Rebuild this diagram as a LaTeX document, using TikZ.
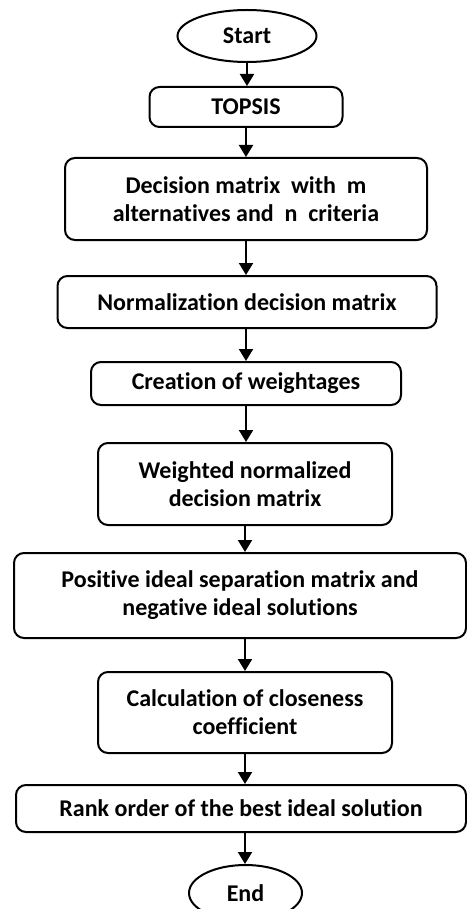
\documentclass[tikz,border=0pt]{standalone}
\usepackage{fontspec}
\setmainfont{Carlito}[Ligatures=NoCommon]
\usetikzlibrary{arrows.meta,shapes.geometric}

\begin{document}
\begin{tikzpicture}[x=1pt, y=-1pt,
	every node/.style={font=\fontsize{24}{28}\selectfont\bfseries, align=center, inner sep=0pt},
	>={Triangle[length=12pt,width=14pt]},
	box/.style={draw, line width=2pt, rounded corners=10pt},
	term/.style={draw, ellipse, line width=2pt},
	flow/.style={->, line width=2pt}]
	\useasboundingbox (0,0) rectangle (466,909);
	% terminals and steps
	\node[term, minimum width=139pt, minimum height=52pt] (start) at (247,36) {Start};
	\node[box, minimum width=193pt, minimum height=40pt] (topsis) at (246,107) {TOPSIS};
	\node[box, minimum width=362pt, minimum height=82pt] (decision) at (246,199) {Decision matrix~ with~ m\\alternatives and~ n~ criteria};
	\node[box, minimum width=379pt, minimum height=52pt] (norm) at (247,302) {Normalization decision matrix};
	\node[box, minimum width=310pt, minimum height=43pt] (weights) at (246,383.5) {Creation of weightages};
	\node[box, minimum width=294pt, minimum height=82pt] (weighted) at (245,484) {Weighted normalized\\decision matrix};
	\node[box, minimum width=452pt, minimum height=85pt] (separation) at (240,595.5) {Positive ideal separation matrix and\\negative ideal solutions};
	\node[box, minimum width=294pt, minimum height=81pt] (closeness) at (245,712.5) {Calculation of closeness\\coefficient};
	\node[box, minimum width=450pt, minimum height=47pt] (rank) at (241,808.5) {Rank order of the best ideal solution};
	\node[term, minimum width=113pt, minimum height=56pt] (end) at (245.5,893) {End};
	% arrows
	\draw[flow] (start.south) -- (start.south |- topsis.north);
	\draw[flow] (topsis.south) -- (topsis.south |- decision.north);
	\draw[flow] (decision.south) -- (decision.south |- norm.north);
	\draw[flow] (decision.south |- norm.south) -- (decision.south |- weights.north);
	\draw[flow] (weights.south) -- (weights.south |- weighted.north);
	\draw[flow] (weighted.south) -- (weighted.south |- separation.north);
	\draw[flow] (weighted.south |- separation.south) -- (weighted.south |- closeness.north);
	\draw[flow] (closeness.south) -- (closeness.south |- rank.north);
	\draw[flow] (closeness.south |- rank.south) -- (closeness.south |- end.north);
\end{tikzpicture}
\end{document}
